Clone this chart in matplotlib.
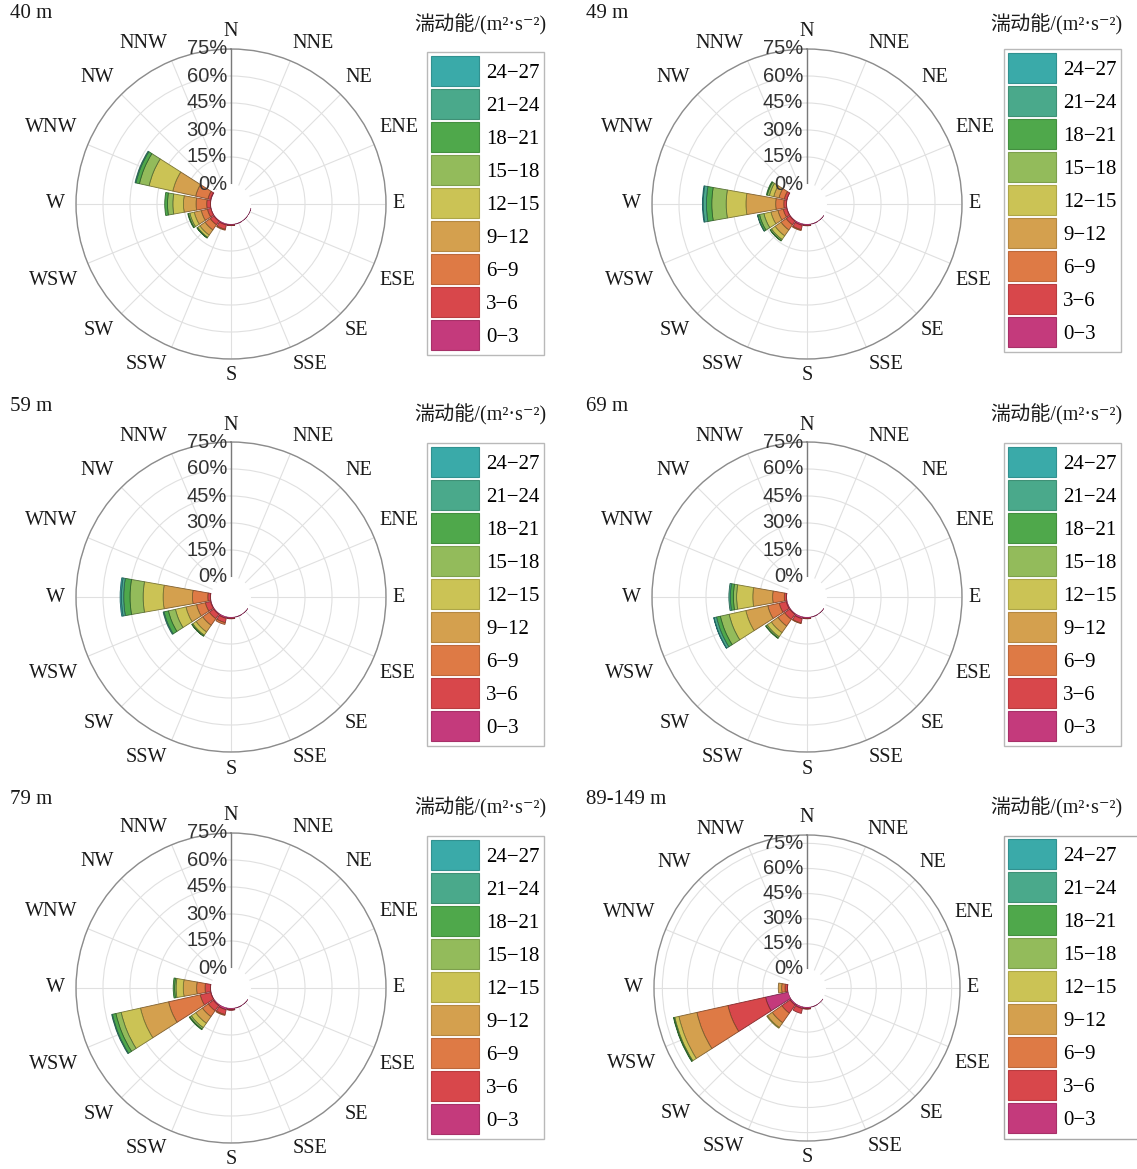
import numpy as np
import matplotlib
matplotlib.use('Agg')
from matplotlib import pyplot as plt
from matplotlib.patches import Patch, Rectangle
from matplotlib.transforms import offset_copy
from matplotlib.colors import to_rgb


# ---------------------------------------------------------------- Setting
plt.rcParams['font.family'] = ['Liberation Serif', 'DejaVu Serif', 'Noto Sans CJK SC']


# ---------------------------------------------------------------- Data
directions = ['N', 'NNE', 'NE', 'ENE', 'E', 'ESE', 'SE', 'SSE',
              'S', 'SSW', 'SW', 'WSW', 'W', 'WNW', 'NW', 'NNW']
tke_bins = ['0−3', '3−6', '6−9', '9−12', '12−15', '15−18', '18−21', '21−24', '24−27']
bin_colors = ['#c43a7c', '#d8474b', '#de7a45', '#d4a04e', '#cbc355',
              '#93bb5b', '#4fa84b', '#4aa98b', '#3aaaa9']
heights = ['40 m', '49 m', '59 m', '69 m', '79 m', '89-149 m']
r_max = [75, 75, 75, 75, 75, 80]
r_ticks = [0, 15, 30, 45, 60, 75]

# frequency (%) per direction, one value per TKE bin (0-3 first)
freq_40 = {
    'ESE': [0.15], 'SE': [0.15], 'SSE': [0.3],
    'S': [0.7, 0.2],
    'SSW': [0.8, 2.5, 0.5],
    'SW': [0.5, 2.5, 3.5, 3.5, 1.5, 0.4, 0.1],
    'WSW': [0.3, 2.0, 3.5, 4.0, 2.5, 0.8, 0.4],
    'W': [0.3, 2.1, 5.9, 7.0, 5.9, 3.0, 1.5],
    'WNW': [0.5, 1.5, 7.0, 13.0, 13.5, 5.5, 2.0, 0.5],
}
freq_49 = {
    'SE': [0.15], 'SSE': [0.3],
    'S': [0.8, 0.2],
    'SSW': [1.0, 2.5, 0.5],
    'SW': [0.5, 2.5, 3.5, 4.0, 2.5, 0.8, 0.2],
    'WSW': [0.4, 2.0, 3.0, 4.0, 4.0, 2.5, 1.0, 0.2],
    'W': [0.3, 1.5, 4.5, 16.5, 11.0, 8.0, 3.0, 1.8, 0.4],
    'WNW': [0.3, 1.5, 3.0, 3.0, 2.5, 1.2, 0.5],
}
freq_59 = {
    'SE': [0.15], 'SSE': [0.3],
    'S': [0.8, 0.2],
    'SSW': [1.0, 2.5, 1.0],
    'SW': [0.6, 3.0, 4.5, 4.5, 2.2, 0.6, 0.1],
    'WSW': [0.5, 3.0, 5.0, 6.0, 6.0, 4.0, 2.5, 0.5],
    'W': [0.3, 1.5, 8.5, 16.3, 11.1, 7.3, 3.5, 1.3, 0.7],
}
freq_69 = {
    'SE': [0.15], 'SSE': [0.3],
    'S': [0.8, 0.2],
    'SSW': [1.2, 2.5, 0.3],
    'SW': [0.6, 3.5, 4.5, 4.5, 2.8, 0.8, 0.3],
    'WSW': [0.7, 4.0, 6.5, 12.5, 9.5, 5.0, 2.2, 1.4, 0.2],
    'W': [0.3, 1.2, 6.5, 11.0, 9.0, 1.8, 1.7, 0.8],
}
freq_79 = {
    'SE': [0.15], 'SSE': [0.3],
    'S': [1.0, 0.2],
    'SSW': [1.2, 2.8, 0.5],
    'SW': [0.8, 3.5, 4.0, 4.5, 3.0, 1.0, 0.4],
    'WSW': [0.4, 6.0, 18.0, 16.0, 11.0, 3.0, 2.0, 0.4],
    'W': [0.3, 3.0, 4.7, 7.4, 4.0, 0.8, 0.8],
}
freq_89 = {
    'SE': [0.15], 'SSE': [0.3],
    'S': [1.0, 0.3],
    'SSW': [1.2, 3.0],
    'SW': [1.0, 6.0, 7.0, 3.5, 0.5],
    'WSW': [14.0, 23.0, 19.0, 11.0, 2.5, 0.5, 0.3],
    'W': [0.3, 1.5, 2.0, 2.0],
}
all_freq = [freq_40, freq_49, freq_59, freq_69, freq_79, freq_89]


# ---------------------------------------------------------------- Layout (pixels)
W, H = 1137, 1169
centers = [(231, 204), (807, 204), (231, 597), (807, 597), (231, 988), (807, 988)]
radius_px = [155, 155, 155, 155, 155, 153]
hole_px = [20, 20, 20, 20, 20, 19]
title_xy = [(10, 14), (586, 14), (10, 407), (586, 407), (10, 800), (586, 800)]
leg_title_xy = [(414, 25), (990, 25), (414, 415), (990, 415), (414, 808), (990, 808)]
leg_xy = [(427, 52), (1004, 49), (427, 443), (1004, 443), (427, 836), (1004, 835)]


def darker(c, f):
    return tuple(np.array(to_rgb(c)) * f)


fig = plt.figure(figsize=(W / 100, H / 100), dpi=100)
theta16 = np.deg2rad(np.arange(16) * 22.5)
bar_width = np.deg2rad(20)
legends = []

for k in range(6):
    cx, cy = centers[k]
    R = radius_px[k]
    rm = r_max[k]
    ax = fig.add_axes([(cx - R) / W, 1 - (cy + R) / H, 2 * R / W, 2 * R / H],
                      projection='polar')
    ax.set_theta_zero_location('N')
    ax.set_theta_direction(-1)
    ax.set_ylim(0, rm)
    frac = hole_px[k] / R
    ax.set_rorigin(-rm * frac / (1 - frac))

    # grid
    ax.set_xticks(theta16)
    ax.set_xticklabels([])
    ax.set_yticks([15, 30, 45, 60, 75])
    ax.set_yticklabels([])
    ax.tick_params(length=0)
    ax.grid(color='#e0e0e0', linewidth=0.8)
    ax.set_axisbelow(True)
    ax.spines['polar'].set_color('#8c8c8c')
    ax.spines['polar'].set_linewidth(1.0)
    ax.spines['inner'].set_edgecolor('none')
    ax.spines['inner'].set_linewidth(0)
    ax.axvline(0, color='#7a7a7a', linewidth=1.0, zorder=3)

    # stacked wedges
    for d, vals in all_freq[k].items():
        th = theta16[directions.index(d)]
        bottom = 0.0
        for i, v in enumerate(vals):
            if v > 0:
                ax.bar(th, v, width=bar_width, bottom=bottom, color=bin_colors[i],
                       edgecolor=darker(bin_colors[i], 0.6), linewidth=0.6, zorder=2)
            bottom += v

    # radial labels
    tr = offset_copy(ax.transData, fig=fig, x=-4, y=0, units='dots')
    for v in r_ticks:
        ax.text(0, v, f'{v}%', transform=tr, ha='right', va='center',
                family=['Liberation Sans'], fontsize=14.5, color='#333333', zorder=6)

    # direction labels
    for name, th in zip(directions, theta16):
        s, c = np.sin(th), np.cos(th)
        if abs(s) < 1e-6:
            ha, fx = 'center', 0.52
        elif s > 0:
            ha, fx = 'left', 0.52
        else:
            ha, fx = 'right', 0.535
        x = 0.5 + fx * s
        y = 0.5 + (R * c + 17 * np.sign(np.round(c, 6))) / (2 * R)
        ax.text(x, y, name, transform=ax.transAxes, ha=ha, va='center',
                fontsize=14.5, color='#1a1a1a', clip_on=False)

    # panel title
    tx, ty = title_xy[k]
    fig.text(tx / W, 1 - ty / H, heights[k], ha='left', va='center',
             fontsize=15, color='#1a1a1a')

    # legend
    lx, ly = leg_title_xy[k]
    fig.text(lx / W, 1 - ly / H, '湍动能/(m²·s⁻²)', ha='left', va='center',
             fontsize=14.5, color='#1a1a1a')
    handles = [Patch(facecolor=c, edgecolor=darker(c, 0.85), linewidth=0.8)
               for c in bin_colors[::-1]]
    bx, by = leg_xy[k]
    leg = fig.legend(handles, tke_bins[::-1], loc='upper left',
                     bbox_to_anchor=(bx / W, 1 - by / H), bbox_transform=fig.transFigure,
                     borderaxespad=0, frameon=(k != 5), fancybox=False,
                     prop={'family': ['Liberation Serif', 'DejaVu Serif'], 'size': 15},
                     handlelength=2.3, handleheight=1.84, labelspacing=0.144,
                     handletextpad=0.35, borderpad=0.2)
    leg.get_frame().set_edgecolor('#a8a8a8')
    leg.get_frame().set_linewidth(1.0)
    legends.append(leg)

# last legend box runs past the right edge of the picture
fig.canvas.draw()
bb = legends[5].get_window_extent()
ref = legends[4].get_window_extent()
fig.patches.append(Rectangle((bb.x0 / W, ref.y0 / H), 200 / W, ref.height / H,
                             transform=fig.transFigure, facecolor='none',
                             edgecolor='#a8a8a8', linewidth=1.0))

plt.savefig('out.png', dpi=100)
plt.close()
